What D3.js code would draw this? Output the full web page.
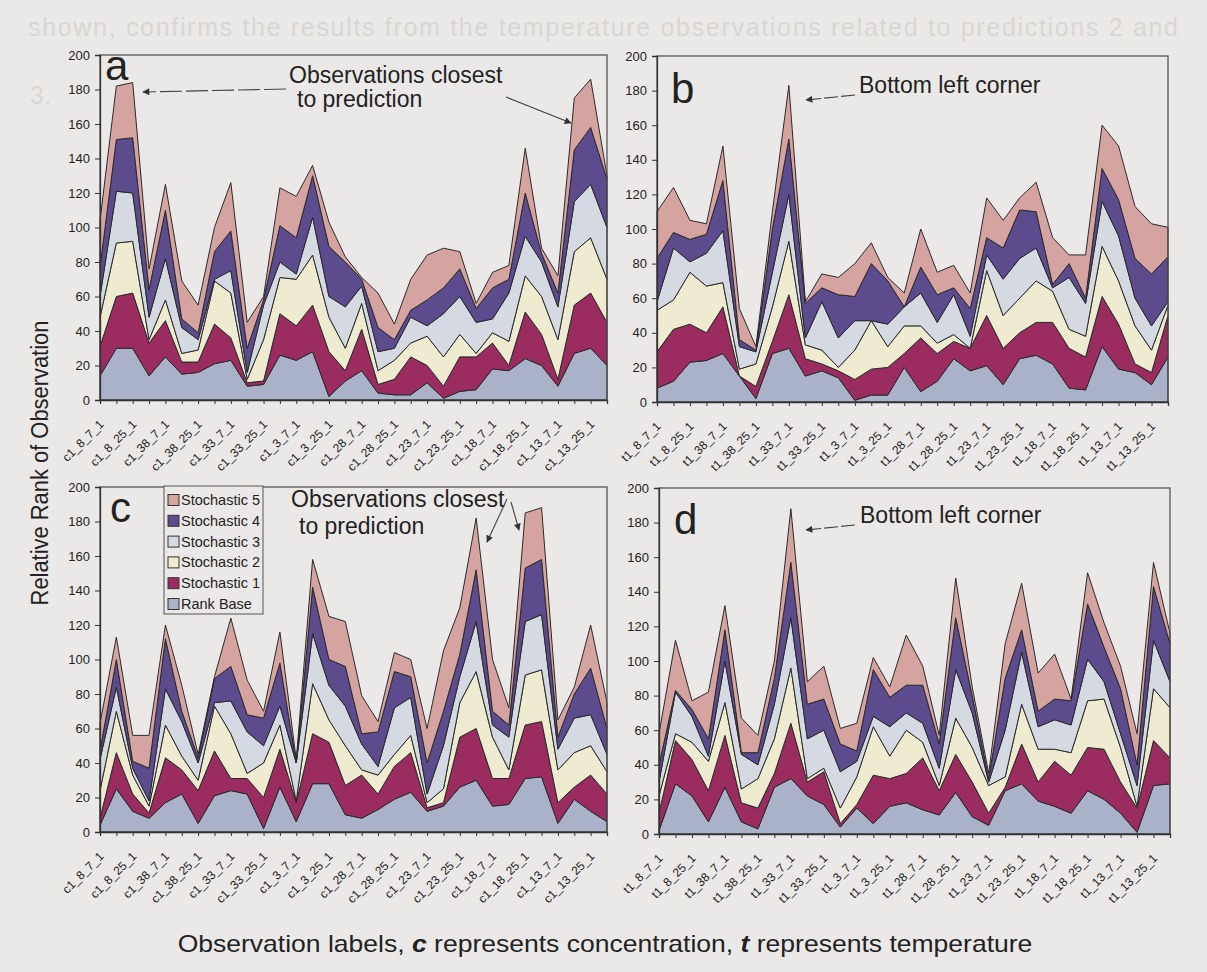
<!DOCTYPE html>
<html lang="en">

<script src="https://d3js.org/d3.v7.min.js"></script>

<head>
    <meta charset="UTF-8">
    <title>Relative rank of observation</title>
    <style>
        body { margin: 0; background: #ebe9e7; }
        svg text { font-family: "Liberation Sans", Arial, sans-serif; }
    </style>
</head>
<body>

<svg width="1207" height="972"></svg>

<script>
    // category labels (Excel prints only every second one)
    const labelsC = ["c1_8_7_1","c1_8_25_1","c1_38_7_1","c1_38_25_1","c1_33_7_1","c1_33_25_1","c1_3_7_1","c1_3_25_1",
                     "c1_28_7_1","c1_28_25_1","c1_23_7_1","c1_23_25_1","c1_18_7_1","c1_18_25_1","c1_13_7_1","c1_13_25_1"];
    const labelsT = ["t1_8_7_1","t1_8_25_1","t1_38_7_1","t1_38_25_1","t1_33_7_1","t1_33_25_1","t1_3_7_1","t1_3_25_1",
                     "t1_28_7_1","t1_28_25_1","t1_23_7_1","t1_23_25_1","t1_18_7_1","t1_18_25_1","t1_13_7_1","t1_13_25_1"];

    const seriesNames = ["Rank Base","Stochastic 1","Stochastic 2","Stochastic 3","Stochastic 4","Stochastic 5"];
    const seriesColors = ["#a9b2c8","#9a2c60","#eeebd1","#d5dae2","#5c4b8d","#d5a4a1"];
    const yTicks = [0,20,40,60,80,100,120,140,160,180,200];

    // panel a
    const aBase  = [14,30,30,14,25,15,16,21,23,8,9,26,23,28,2,11,17,4,3,3,10,1,5,6,18,17,24,20,8,27,30,20];
    const aStoch1 = [17,30,32,19,21,7,6,23,13,2,2,24,20,27,26,6,24,5,9,22,10,7,20,19,15,3,27,18,4,28,32,25];
    const aStoch2 = [17,31,30,2,12,5,7,25,26,2,24,21,27,29,20,13,15,8,11,8,17,17,13,2,6,14,21,22,23,31,32,25];
    const aStoch3 = [12,30,28,13,24,15,6,1,13,4,20,9,3,22,12,24,10,11,7,15,6,25,22,18,8,28,23,20,19,29,31,30];
    const aStoch4 = [17,30,32,16,28,5,4,16,23,14,3,21,21,24,29,26,4,14,5,4,15,15,16,8,18,8,25,5,8,30,33,28];
    const aStoch5 = [27,31,32,12,15,22,16,14,28,15,2,22,24,6,14,3,1,20,9,18,26,23,10,3,9,8,26,3,10,30,28,2];

    // panel b
    const bBase  = [8,12,23,24,28,15,2,28,31,15,18,14,1,4,4,20,6,12,25,18,21,10,25,27,22,8,7,32,19,17,10,26];
    const bStoch1 = [21,30,22,16,27,0,7,7,31,10,4,4,12,15,16,8,31,16,10,13,29,21,15,19,24,23,19,29,26,5,7,24];
    const bStoch2 = [24,17,30,27,14,4,13,20,31,8,8,2,17,28,12,16,7,6,4,0,26,19,20,24,18,11,12,29,25,22,13,6];
    const bStoch3 = [5,30,6,19,30,13,7,20,27,4,28,17,17,0,13,11,19,12,23,7,9,21,23,19,2,30,19,26,26,16,14,2];
    const bStoch4 = [25,9,13,11,29,4,1,25,32,20,8,25,14,33,25,0,15,16,4,16,10,18,28,21,2,8,3,19,21,23,30,26];
    const bStoch5 = [27,26,11,6,20,18,2,10,31,1,8,10,19,12,2,8,22,13,13,9,23,16,7,17,27,5,25,25,31,30,29,17];

    // panel c
    const cBase  = [4,25,12,8,17,22,5,21,24,22,2,26,6,28,28,10,8,13,19,23,12,15,26,30,15,16,31,32,5,19,12,6];
    const cStoch1 = [4,21,10,3,26,14,19,26,7,9,18,22,11,29,24,17,25,9,19,23,2,2,29,30,16,15,31,32,12,7,21,16];
    const cStoch2 = [16,24,11,4,19,8,6,26,26,3,20,14,1,29,13,23,3,11,7,10,3,8,20,33,24,5,29,30,19,20,17,13];
    const cStoch3 = [18,14,4,3,21,20,10,2,19,24,10,11,22,29,20,23,15,5,27,22,5,25,15,29,7,19,31,32,12,20,18,10];
    const cStoch4 = [5,16,4,19,29,6,3,14,20,10,16,25,0,27,15,23,6,20,21,12,18,20,13,30,8,7,31,32,7,14,27,15];
    const cStoch5 = [16,13,15,19,8,15,2,1,28,20,4,18,2,16,25,26,22,6,11,10,20,35,27,30,30,10,32,30,10,4,25,15];

    // panel d
    const dBase  = [2,29,22,7,27,7,3,27,32,22,17,4,15,6,16,18,14,11,24,10,5,25,29,19,16,12,25,20,12,1,28,29];
    const dStoch1 = [10,25,21,18,30,11,12,8,32,8,19,2,2,28,16,17,30,14,22,20,7,2,23,11,26,22,25,29,18,14,26,15];
    const dStoch2 = [10,4,10,17,19,8,17,20,32,2,2,9,16,28,13,25,9,3,21,20,16,6,23,19,7,13,27,29,20,1,30,29];
    const dStoch3 = [8,24,15,3,24,20,8,20,29,23,22,21,9,6,17,10,11,10,28,20,2,27,30,13,17,16,24,10,8,12,28,15];
    const dStoch4 = [10,1,4,10,18,1,7,15,32,20,18,16,6,27,17,16,22,14,30,10,2,30,13,9,12,14,32,20,26,12,31,22];
    const dStoch5 = [18,29,5,27,14,20,10,10,31,13,19,9,16,7,6,29,11,5,23,5,3,20,27,22,26,1,18,14,13,18,14,6];

    const svg = d3.select("svg");

    // faint text showing through from the other side of the page
    svg.append("text").attr("x", 28).attr("y", 36)
        .attr("font-family", "Liberation Serif, serif").attr("font-size", 25).attr("fill", "#d9d6d3")
        .attr("textLength", 1150)
        .text("shown, confirms the results from the temperature observations related to predictions 2 and");
    svg.append("text").attr("x", 30).attr("y", 104)
        .attr("font-family", "Liberation Serif, serif").attr("font-size", 25).attr("fill", "#d9d6d3")
        .text("3.");

    // arrow head
    svg.append("defs").append("marker")
        .attr("id", "arrow").attr("viewBox", "0 0 10 10")
        .attr("refX", 9).attr("refY", 5)
        .attr("markerWidth", 9).attr("markerHeight", 7)
        .attr("markerUnits", "userSpaceOnUse")
        .attr("orient", "auto")
        .append("path").attr("d", "M0,0 L10,5 L0,10 z").attr("fill", "#333");

    const panels = [
        {name: "a", labels: labelsC, series: [aBase,aStoch1,aStoch2,aStoch3,aStoch4,aStoch5],
         left: 100, right: 607, top: 55, bottom: 400, letterX: 105, letterY: 80},
        {name: "b", labels: labelsT, series: [bBase,bStoch1,bStoch2,bStoch3,bStoch4,bStoch5],
         left: 657, right: 1168, top: 56, bottom: 402, letterX: 671, letterY: 103},
        {name: "c", labels: labelsC, series: [cBase,cStoch1,cStoch2,cStoch3,cStoch4,cStoch5],
         left: 100, right: 607, top: 487, bottom: 832, letterX: 110, letterY: 522},
        {name: "d", labels: labelsT, series: [dBase,dStoch1,dStoch2,dStoch3,dStoch4,dStoch5],
         left: 659, right: 1170, top: 488, bottom: 834, letterX: 674, letterY: 534}
    ];

    panels.forEach(p => {
        const g = svg.append("g");
        const idx = d3.range(p.series[0].length);

        const x = d3.scalePoint().domain(idx).range([p.left, p.right]);
        const y = d3.scaleLinear().domain([0, 200]).range([p.bottom, p.top]);

        // rows for the stack
        const rows = idx.map(i => {
            const r = {};
            seriesNames.forEach((s, k) => r[s] = p.series[k][i]);
            return r;
        });
        const layers = d3.stack().keys(seriesNames)(rows);

        const area = d3.area()
            .x((d, i) => x(i))
            .y0(d => y(d[0]))
            .y1(d => y(d[1]));

        g.selectAll("path.layer").data(layers).join("path")
            .attr("class", "layer")
            .attr("fill", (d, k) => seriesColors[k])
            .attr("stroke", "#2a2a2a")
            .attr("stroke-width", 1)
            .attr("stroke-linejoin", "round")
            .attr("d", area);

        // plot frame
        g.append("rect")
            .attr("x", p.left).attr("y", p.top)
            .attr("width", p.right - p.left).attr("height", p.bottom - p.top)
            .attr("fill", "none").attr("stroke", "#4a4a4a").attr("stroke-width", 1.2);

        // y axis
        const yAxis = g.append("g")
            .attr("transform", `translate(${p.left},0)`)
            .call(d3.axisLeft(y).tickValues(yTicks).tickSize(5).tickPadding(5));
        yAxis.select(".domain").attr("stroke", "#333").attr("stroke-width", 1.3);
        yAxis.selectAll("line").attr("stroke", "#333");
        yAxis.selectAll("text")
            .attr("font-family", "Liberation Sans, Arial, sans-serif")
            .attr("font-size", 13).attr("fill", "#222");

        // x axis
        const xAxis = g.append("g")
            .attr("transform", `translate(0,${p.bottom})`)
            .call(d3.axisBottom(x).tickSize(4).tickFormat(i => i % 2 === 0 ? p.labels[i / 2] : ""));
        xAxis.select(".domain").attr("stroke", "#333").attr("stroke-width", 1.3);
        xAxis.selectAll("line").attr("stroke", "#333");
        xAxis.selectAll("text")
            .attr("x", 0).attr("y", 0).attr("dy", "0.35em")
            .attr("text-anchor", "end")
            .attr("transform", "translate(1,22) rotate(-45)")
            .attr("font-family", "Liberation Sans, Arial, sans-serif")
            .attr("font-size", 12).attr("fill", "#222");

        // panel letter
        g.append("text")
            .attr("x", p.letterX).attr("y", p.letterY)
            .attr("font-size", 42).attr("fill", "#222")
            .text(p.name);
    });

    // annotations
    function note(lines, xPos, yPos, lineGap) {
        lines.forEach((t, k) => {
            svg.append("text")
                .attr("x", xPos[k]).attr("y", yPos + k * lineGap)
                .attr("font-size", 23).attr("fill", "#222")
                .text(t);
        });
    }
    function arrow(x1, y1, x2, y2, dash) {
        svg.append("line")
            .attr("x1", x1).attr("y1", y1).attr("x2", x2).attr("y2", y2)
            .attr("stroke", "#444").attr("stroke-width", 1.1)
            .attr("stroke-dasharray", dash || null)
            .attr("marker-end", "url(#arrow)");
    }

    note(["Observations closest", "to prediction"], [289, 297], 83, 24);
    arrow(286, 89, 143, 92, "22,4");
    arrow(506, 97, 571, 123);

    note(["Bottom left corner"], [859], 93, 0);
    arrow(855, 95, 806, 100, "14,3");

    note(["Observations closest", "to prediction"], [291, 299], 507, 27);
    arrow(507, 499, 487, 542);
    arrow(511, 502, 519, 530);

    note(["Bottom left corner"], [860], 523, 0);
    arrow(855, 525, 806, 530, "14,3");

    // legend inside panel c
    const legend = svg.append("g");
    legend.append("rect")
        .attr("x", 164).attr("y", 486).attr("width", 99).attr("height", 128)
        .attr("fill", "#ebe9e7").attr("stroke", "#555").attr("stroke-width", 1);
    const legendOrder = [5, 4, 3, 2, 1, 0];
    legendOrder.forEach((k, row) => {
        const yy = 500 + row * 20.8;
        legend.append("rect")
            .attr("x", 168).attr("y", yy - 5.5).attr("width", 11).attr("height", 11)
            .attr("fill", seriesColors[k]).attr("stroke", "#333").attr("stroke-width", 1);
        legend.append("text")
            .attr("x", 181).attr("y", yy + 5)
            .attr("font-size", 14.5).attr("fill", "#222")
            .text(seriesNames[k]);
    });

    // axis titles (narrow face in the original, so squeeze to the measured width)
    const yTitle = svg.append("text")
        .attr("text-anchor", "middle")
        .attr("font-size", 24).attr("fill", "#222")
        .text("Relative Rank of Observation");
    const yw = yTitle.node().getComputedTextLength();
    yTitle.attr("transform", `translate(48,463) rotate(-90) scale(${285 / yw},1)`);

    const xTitle = svg.append("text")
        .attr("text-anchor", "middle")
        .attr("font-size", 24).attr("fill", "#222");
    xTitle.append("tspan").text("Observation labels, ");
    xTitle.append("tspan").attr("font-weight", "bold").attr("font-style", "italic").text("c");
    xTitle.append("tspan").text(" represents concentration, ");
    xTitle.append("tspan").attr("font-weight", "bold").attr("font-style", "italic").text("t");
    xTitle.append("tspan").text(" represents temperature");
    const xw = xTitle.node().getComputedTextLength();
    xTitle.attr("transform", `translate(605,952) scale(${855 / xw},1)`);
</script>
</body>
</html>
